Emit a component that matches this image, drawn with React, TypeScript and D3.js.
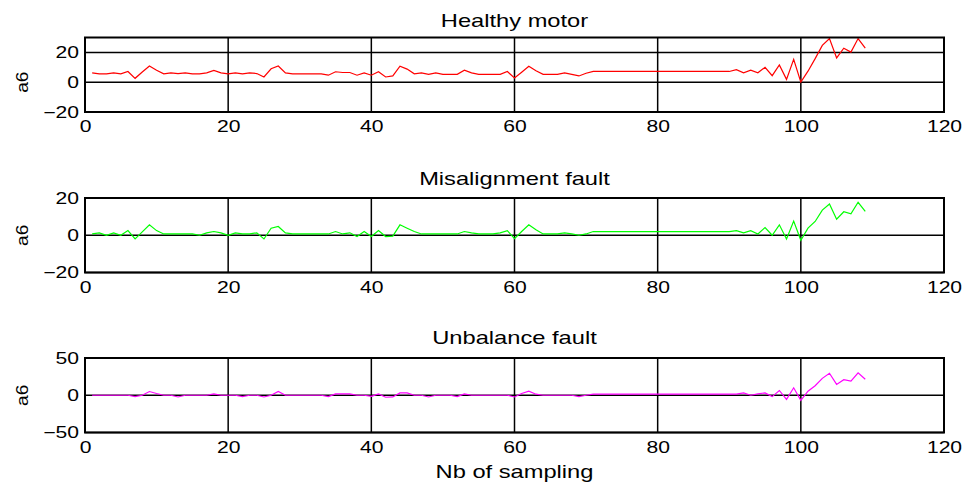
import React, { useEffect, useRef } from 'react';
import * as d3 from 'd3';

// sample index runs 1..109
const healthy = [
  6.3, 5.6, 5.6, 6.3, 5.6, 7.2, 2.6, 6.8, 10.9, 8,
  5.6, 6.3, 5.8, 6.3, 5.6, 5.6, 6.3, 7.9, 6.3, 5.6,
  6.3, 5.6, 6.3, 5.8, 3.5, 9, 10.9, 6.3, 5.6, 5.6,
  5.6, 5.6, 5.6, 4.7, 7, 6.5, 6.5, 4.7, 6.3, 4.7,
  7, 3.5, 4.2, 10.7, 8.8, 5.6, 6.3, 5.3, 6.3, 5.3,
  5.3, 5.3, 8, 6.3, 5.3, 5.3, 5.3, 5.3, 7.2, 2.8,
  6.7, 10.7, 7.7, 5.3, 5.3, 5.3, 6.3, 5.3, 4.2, 6,
  7.2, 7.2, 7.2, 7.2, 7.2, 7.2, 7.2, 7.2, 7.2, 7.2,
  7.2, 7.2, 7.2, 7.2, 7.2, 7.2, 7.2, 7.2, 7.2, 7.2,
  8.4, 6.3, 8.1, 6.3, 10, 4.4, 11.6, 1.9, 15.3, 0,
  7.4, 15.8, 24.7, 29.3, 16.3, 22.8, 20.2, 29.3, 22.8,
];

const misalignment = [
  0.7, 1.3, 0, 1.3, 0, 2.5, -2, 1.8, 5.6, 2.5,
  0.7, 0.7, 0.7, 0.7, 0.7, 0, 1.3, 2, 1.3, 0,
  1.3, 0.7, 0.7, 1.3, -2, 3.8, 4.7, 1.3, 0.7, 0.7,
  0.7, 0.7, 0.7, 0.7, 2, 0.7, 1.3, -0.7, 2, -0.7,
  2.5, -0.7, -0.5, 5.6, 3.8, 2, 0.7, 0.7, 0.7, 0.7,
  0.7, 0.7, 2, 1.3, 0.7, 0.7, 0.7, 1.3, 2.5, -1.8,
  2, 5.6, 2.9, 0.7, 0.7, 0.7, 1.3, 0.7, 0, 0.7,
  2, 2, 2, 2, 2, 2, 2, 2, 2, 2,
  2, 2, 2, 2, 2, 2, 2, 2, 2, 2,
  2.5, 1.3, 2.5, 0.7, 4.1, 0, 5.6, -2, 7.6, -2.7,
  3.8, 7.4, 13.5, 16.8, 8.6, 12.6, 11.5, 17.7, 12.8,
];

const unbalance = [
  0, 0, 0, 0, 0, 0, -1.8, 0, 5, 2.3,
  0, 0, -2.3, 0, 0, 0, 0, 1.8, 0, 0,
  0, -1.8, 0, 0, -2.3, 0, 5, 0, 0, 0,
  0, 0, 0, -1.8, 1.8, 1.8, 1.8, 0, 0, -1.4,
  1.8, -2.7, -2.3, 3.2, 3.2, 0, 0, -2.3, 0, 0,
  0, -1.8, 1.8, 0, 0, 0, 0, 0, 0, -2.3,
  2.3, 5.5, 1.4, 0, 0, 0, 0, 0, -1.8, 0,
  1.4, 1.4, 1.4, 1.4, 1.4, 1.4, 1.4, 1.4, 1.4, 1.4,
  1.4, 1.4, 1.4, 1.4, 1.4, 1.4, 1.4, 1.4, 1.4, 1.4,
  1.4, 3.2, 0, 1.8, 3.2, -1.8, 6.4, -5.5, 10, -6.8,
  5.5, 12.7, 22.7, 29.5, 14.5, 20.9, 19, 30, 21.4,
];

const titles = ['Healthy motor', 'Misalignment fault', 'Unbalance fault'];
const yDomains = [[-20, 30], [-20, 20], [-50, 50]];
const yTicks = [[-20, 0, 20], [-20, 0, 20], [-50, 0, 50]];
const xTicks = [0, 20, 40, 60, 80, 100, 120];
const colors = ['#ff0000', '#00ff00', '#ff00ff'];
const series = [healthy, misalignment, unbalance];

const width = 967;
const height = 487;
const left = 85;
const right = 944;
const tops = [37.5, 198, 358];
const titleGaps = [11, 13.3, 13.7];
const panelH = 74.5;
const font = 'Arial, "Liberation Sans", sans-serif';
// the exported text is wider than the plain font, so stretch it sideways
const tickStretch = 1.32;
const labelStretch = 1.28;

const App = () => {
  const svgRef = useRef(null);

  useEffect(() => {
    const svg = d3.select(svgRef.current);
    svg.selectAll('*').remove();

    const x = d3.scaleLinear().domain([0, 120]).range([left, right]);

    series.forEach((values, i) => {
      const top = tops[i];
      const y = d3.scaleLinear().domain(yDomains[i]).range([top + panelH, top]);
      const g = svg.append('g');

      // grid
      g.selectAll('.vgrid')
        .data(xTicks)
        .enter()
        .append('line')
        .attr('x1', d => x(d))
        .attr('x2', d => x(d))
        .attr('y1', top)
        .attr('y2', top + panelH)
        .attr('stroke', '#000')
        .attr('stroke-width', 1.5);

      g.selectAll('.hgrid')
        .data(yTicks[i])
        .enter()
        .append('line')
        .attr('x1', left)
        .attr('x2', right)
        .attr('y1', d => y(d))
        .attr('y2', d => y(d))
        .attr('stroke', '#000')
        .attr('stroke-width', 1.5);

      const line = d3.line<number>()
        .x((d, k) => x(k + 1))
        .y(d => y(d));

      g.append('path')
        .datum(values)
        .attr('fill', 'none')
        .attr('stroke', colors[i])
        .attr('stroke-width', 1.2)
        .attr('d', line);

      g.append('rect')
        .attr('x', left)
        .attr('y', top)
        .attr('width', right - left)
        .attr('height', panelH)
        .attr('fill', 'none')
        .attr('stroke', '#000')
        .attr('stroke-width', 2);

      const xAxis = g.append('g')
        .attr('transform', `translate(0,${top + panelH})`)
        .call(d3.axisBottom(x).tickValues(xTicks).tickSize(0).tickPadding(9));
      xAxis.select('.domain').remove();
      xAxis.selectAll('text')
        .attr('font-family', font)
        .attr('font-size', 16)
        .attr('fill', '#000')
        .attr('transform', `scale(${tickStretch},1)`);

      const yAxis = g.append('g')
        .attr('transform', `translate(${left},0)`)
        .call(d3.axisLeft(y).tickValues(yTicks[i]).tickSize(0).tickPadding(4.6));
      yAxis.select('.domain').remove();
      yAxis.selectAll('text')
        .attr('font-family', font)
        .attr('font-size', 16)
        .attr('fill', '#000')
        .attr('transform', `scale(${tickStretch},1)`);

      g.append('text')
        .attr('transform', `translate(${(left + right) / 2},${top - titleGaps[i]}) scale(${labelStretch},1)`)
        .attr('text-anchor', 'middle')
        .attr('font-family', font)
        .attr('font-size', 18.5)
        .text(titles[i]);

      g.append('text')
        .attr('transform', `translate(22,${y(0)}) rotate(-90) scale(1.2,1)`)
        .attr('text-anchor', 'middle')
        .attr('dy', '0.35em')
        .attr('font-family', font)
        .attr('font-size', 16)
        .text('a6');
    });

    svg.append('text')
      .attr('transform', `translate(${(left + right) / 2},478) scale(${labelStretch},1)`)
      .attr('text-anchor', 'middle')
      .attr('font-family', font)
      .attr('font-size', 18.5)
      .text('Nb of sampling');
  }, []);

  return (
    <div style={{ position: 'absolute', left: 0, top: 0 }}>
      <svg ref={svgRef} width={width} height={height} style={{ display: 'block', background: '#fff' }}></svg>
    </div>
  );
};

export default App;
